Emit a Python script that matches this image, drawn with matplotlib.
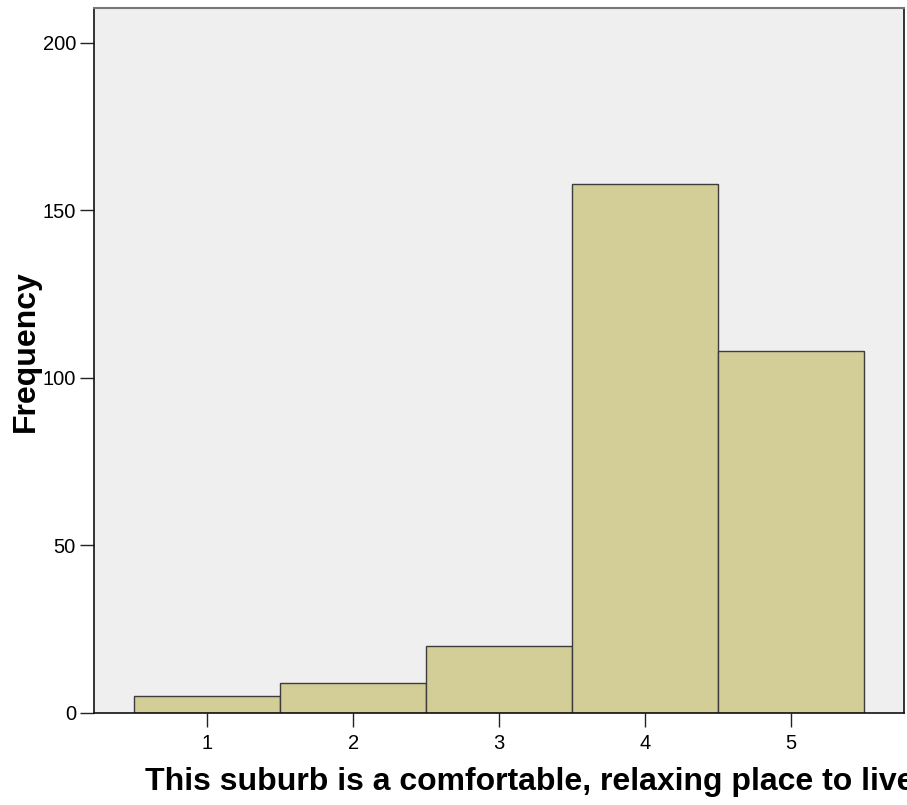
import matplotlib
matplotlib.use("Agg")
import matplotlib.pyplot as plt

plt.rcParams["font.family"] = ["Liberation Sans", "DejaVu Sans"]

# Data
ratings = [1, 2, 3, 4, 5]
counts = [5, 9, 20, 158, 108]
yticks = [0, 50, 100, 150, 200]

fig = plt.figure(figsize=(9.07, 8.05), dpi=100)
ax = fig.add_axes([0.1036, 0.1143, 0.8931, 0.8758])
ax.set_facecolor("#efefef")

ax.bar(ratings, counts, width=1.0, color="#d3ce98", edgecolor="#3c3c3c", linewidth=1.0)

ax.set_xlim(0.224, 5.772)
ax.set_ylim(0, 210.4)
ax.set_xticks(ratings)
ax.set_yticks(yticks)
ax.tick_params(axis="both", labelsize=14.5, length=10, width=1, direction="out", color="#222222")
ax.tick_params(axis="x", pad=5)
ax.tick_params(axis="y", pad=3)

for side in ["left", "bottom", "right"]:
    ax.spines[side].set_color("#111111")
    ax.spines[side].set_linewidth(1.2)
ax.spines["top"].set_color("#777777")
ax.spines["top"].set_linewidth(1.5)

ax.set_ylabel("Frequency", fontsize=23, fontweight="bold")
ax.yaxis.set_label_coords(-0.066, 0.513)
ax.set_xlabel("This suburb is a comfortable, relaxing place to live", fontsize=23,
              fontweight="bold", ha="left")
ax.xaxis.set_label_coords(0.063, -0.077)

fig.savefig("out.png", dpi=100)
